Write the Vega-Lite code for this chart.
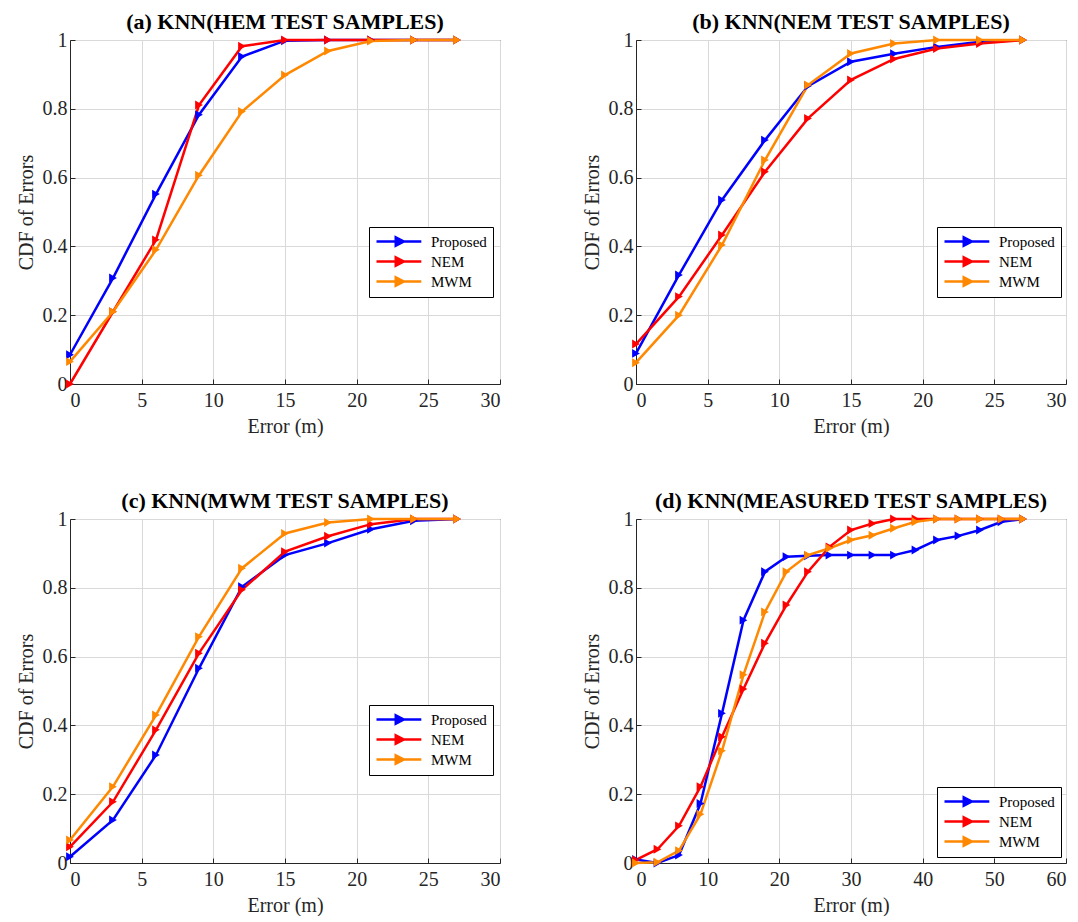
{
"$schema":"https://vega.github.io/schema/vega-lite/v6.json",
"background":"white",
"padding":{"left":15,"top":10,"right":5,"bottom":0},
"datasets":{
"a":[
{"m":"Proposed","e":0,"c":0.085},{"m":"Proposed","e":3,"c":0.308},{"m":"Proposed","e":6,"c":0.552},{"m":"Proposed","e":9,"c":0.783},{"m":"Proposed","e":12,"c":0.952},{"m":"Proposed","e":15,"c":0.998},{"m":"Proposed","e":18,"c":1},{"m":"Proposed","e":21,"c":1},{"m":"Proposed","e":24,"c":1},{"m":"Proposed","e":27,"c":1},
{"m":"NEM","e":0,"c":0},{"m":"NEM","e":3,"c":0.21},{"m":"NEM","e":6,"c":0.419},{"m":"NEM","e":9,"c":0.811},{"m":"NEM","e":12,"c":0.982},{"m":"NEM","e":15,"c":1},{"m":"NEM","e":18,"c":1},{"m":"NEM","e":21,"c":1},{"m":"NEM","e":24,"c":1},{"m":"NEM","e":27,"c":1},
{"m":"MWM","e":0,"c":0.065},{"m":"MWM","e":3,"c":0.21},{"m":"MWM","e":6,"c":0.39},{"m":"MWM","e":9,"c":0.607},{"m":"MWM","e":12,"c":0.792},{"m":"MWM","e":15,"c":0.898},{"m":"MWM","e":18,"c":0.968},{"m":"MWM","e":21,"c":0.997},{"m":"MWM","e":24,"c":1},{"m":"MWM","e":27,"c":1}
],
"b":[
{"m":"Proposed","e":0,"c":0.089},{"m":"Proposed","e":3,"c":0.317},{"m":"Proposed","e":6,"c":0.535},{"m":"Proposed","e":9,"c":0.709},{"m":"Proposed","e":12,"c":0.866},{"m":"Proposed","e":15,"c":0.937},{"m":"Proposed","e":18,"c":0.96},{"m":"Proposed","e":21,"c":0.98},{"m":"Proposed","e":24,"c":0.995},{"m":"Proposed","e":27,"c":1},
{"m":"NEM","e":0,"c":0.116},{"m":"NEM","e":3,"c":0.254},{"m":"NEM","e":6,"c":0.433},{"m":"NEM","e":9,"c":0.617},{"m":"NEM","e":12,"c":0.772},{"m":"NEM","e":15,"c":0.884},{"m":"NEM","e":18,"c":0.945},{"m":"NEM","e":21,"c":0.975},{"m":"NEM","e":24,"c":0.99},{"m":"NEM","e":27,"c":1},
{"m":"MWM","e":0,"c":0.062},{"m":"MWM","e":3,"c":0.2},{"m":"MWM","e":6,"c":0.404},{"m":"MWM","e":9,"c":0.651},{"m":"MWM","e":12,"c":0.869},{"m":"MWM","e":15,"c":0.961},{"m":"MWM","e":18,"c":0.99},{"m":"MWM","e":21,"c":1},{"m":"MWM","e":24,"c":1},{"m":"MWM","e":27,"c":1}
],
"c":[
{"m":"Proposed","e":0,"c":0.018},{"m":"Proposed","e":3,"c":0.125},{"m":"Proposed","e":6,"c":0.314},{"m":"Proposed","e":9,"c":0.566},{"m":"Proposed","e":12,"c":0.803},{"m":"Proposed","e":15,"c":0.895},{"m":"Proposed","e":18,"c":0.93},{"m":"Proposed","e":21,"c":0.97},{"m":"Proposed","e":24,"c":0.995},{"m":"Proposed","e":27,"c":1},
{"m":"NEM","e":0,"c":0.047},{"m":"NEM","e":3,"c":0.178},{"m":"NEM","e":6,"c":0.387},{"m":"NEM","e":9,"c":0.61},{"m":"NEM","e":12,"c":0.794},{"m":"NEM","e":15,"c":0.905},{"m":"NEM","e":18,"c":0.95},{"m":"NEM","e":21,"c":0.985},{"m":"NEM","e":24,"c":1},{"m":"NEM","e":27,"c":1},
{"m":"MWM","e":0,"c":0.067},{"m":"MWM","e":3,"c":0.222},{"m":"MWM","e":6,"c":0.43},{"m":"MWM","e":9,"c":0.658},{"m":"MWM","e":12,"c":0.857},{"m":"MWM","e":15,"c":0.958},{"m":"MWM","e":18,"c":0.99},{"m":"MWM","e":21,"c":1},{"m":"MWM","e":24,"c":1},{"m":"MWM","e":27,"c":1}
],
"d":[
{"m":"Proposed","e":0,"c":0.01},{"m":"Proposed","e":3,"c":0},{"m":"Proposed","e":6,"c":0.023},{"m":"Proposed","e":9,"c":0.173},{"m":"Proposed","e":12,"c":0.435},{"m":"Proposed","e":15,"c":0.706},{"m":"Proposed","e":18,"c":0.847},{"m":"Proposed","e":21,"c":0.89},{"m":"Proposed","e":24,"c":0.893},{"m":"Proposed","e":27,"c":0.895},{"m":"Proposed","e":30,"c":0.895},{"m":"Proposed","e":33,"c":0.895},{"m":"Proposed","e":36,"c":0.895},{"m":"Proposed","e":39,"c":0.91},{"m":"Proposed","e":42,"c":0.939},{"m":"Proposed","e":45,"c":0.951},{"m":"Proposed","e":48,"c":0.968},{"m":"Proposed","e":51,"c":0.992},{"m":"Proposed","e":54,"c":1},
{"m":"NEM","e":0,"c":0.009},{"m":"NEM","e":3,"c":0.04},{"m":"NEM","e":6,"c":0.108},{"m":"NEM","e":9,"c":0.222},{"m":"NEM","e":12,"c":0.367},{"m":"NEM","e":15,"c":0.506},{"m":"NEM","e":18,"c":0.639},{"m":"NEM","e":21,"c":0.75},{"m":"NEM","e":24,"c":0.847},{"m":"NEM","e":27,"c":0.919},{"m":"NEM","e":30,"c":0.968},{"m":"NEM","e":33,"c":0.987},{"m":"NEM","e":36,"c":1},{"m":"NEM","e":39,"c":1},{"m":"NEM","e":42,"c":1},{"m":"NEM","e":45,"c":1},{"m":"NEM","e":48,"c":1},{"m":"NEM","e":51,"c":1},{"m":"NEM","e":54,"c":1},
{"m":"MWM","e":0,"c":0},{"m":"MWM","e":3,"c":0.002},{"m":"MWM","e":6,"c":0.036},{"m":"MWM","e":9,"c":0.142},{"m":"MWM","e":12,"c":0.326},{"m":"MWM","e":15,"c":0.547},{"m":"MWM","e":18,"c":0.73},{"m":"MWM","e":21,"c":0.847},{"m":"MWM","e":24,"c":0.895},{"m":"MWM","e":27,"c":0.915},{"m":"MWM","e":30,"c":0.939},{"m":"MWM","e":33,"c":0.953},{"m":"MWM","e":36,"c":0.973},{"m":"MWM","e":39,"c":0.992},{"m":"MWM","e":42,"c":1},{"m":"MWM","e":45,"c":1},{"m":"MWM","e":48,"c":1},{"m":"MWM","e":51,"c":1},{"m":"MWM","e":54,"c":1}
]
},
"columns":2,
"spacing":{"row":135,"column":136},
"bounds":"flush",
"resolve":{"scale":{"color":"independent","x":"independent","y":"independent"},"legend":{"color":"independent"}},
"concat":[
{"width":430,"height":344,"title":"(a) KNN(HEM TEST SAMPLES)","data":{"name":"a"},
 "mark":{"type":"line","strokeWidth":2.5,"point":{"shape":"triangle-right","size":80,"filled":true}},
 "encoding":{
  "x":{"field":"e","type":"quantitative","scale":{"domain":[0,30],"nice":false},"axis":{"title":"Error (m)","values":[0,5,10,15,20,25,30]}},
  "y":{"field":"c","type":"quantitative","scale":{"domain":[0,1],"nice":false},"axis":{"title":"CDF of Errors","values":[0,0.2,0.4,0.6,0.8,1],"format":"~g"}},
  "color":{"field":"m","type":"nominal","sort":["Proposed","NEM","MWM"],"scale":{"domain":["Proposed","NEM","MWM"],"range":["#0000ff","#ff0000","#ff8800"]},"legend":{"orient":"none","legendX":299,"legendY":187,"title":null}}
 }},
{"width":430,"height":344,"title":"(b) KNN(NEM TEST SAMPLES)","data":{"name":"b"},
 "mark":{"type":"line","strokeWidth":2.5,"point":{"shape":"triangle-right","size":80,"filled":true}},
 "encoding":{
  "x":{"field":"e","type":"quantitative","scale":{"domain":[0,30],"nice":false},"axis":{"title":"Error (m)","values":[0,5,10,15,20,25,30]}},
  "y":{"field":"c","type":"quantitative","scale":{"domain":[0,1],"nice":false},"axis":{"title":"CDF of Errors","values":[0,0.2,0.4,0.6,0.8,1],"format":"~g"}},
  "color":{"field":"m","type":"nominal","sort":["Proposed","NEM","MWM"],"scale":{"domain":["Proposed","NEM","MWM"],"range":["#0000ff","#ff0000","#ff8800"]},"legend":{"orient":"none","legendX":301,"legendY":187,"title":null}}
 }},
{"width":430,"height":344,"title":"(c) KNN(MWM TEST SAMPLES)","data":{"name":"c"},
 "mark":{"type":"line","strokeWidth":2.5,"point":{"shape":"triangle-right","size":80,"filled":true}},
 "encoding":{
  "x":{"field":"e","type":"quantitative","scale":{"domain":[0,30],"nice":false},"axis":{"title":"Error (m)","values":[0,5,10,15,20,25,30]}},
  "y":{"field":"c","type":"quantitative","scale":{"domain":[0,1],"nice":false},"axis":{"title":"CDF of Errors","values":[0,0.2,0.4,0.6,0.8,1],"format":"~g"}},
  "color":{"field":"m","type":"nominal","sort":["Proposed","NEM","MWM"],"scale":{"domain":["Proposed","NEM","MWM"],"range":["#0000ff","#ff0000","#ff8800"]},"legend":{"orient":"none","legendX":299,"legendY":186,"title":null}}
 }},
{"width":430,"height":344,"title":"(d) KNN(MEASURED TEST SAMPLES)","data":{"name":"d"},
 "mark":{"type":"line","strokeWidth":2.5,"point":{"shape":"triangle-right","size":80,"filled":true}},
 "encoding":{
  "x":{"field":"e","type":"quantitative","scale":{"domain":[0,60],"nice":false},"axis":{"title":"Error (m)","values":[0,10,20,30,40,50,60]}},
  "y":{"field":"c","type":"quantitative","scale":{"domain":[0,1],"nice":false},"axis":{"title":"CDF of Errors","values":[0,0.2,0.4,0.6,0.8,1],"format":"~g"}},
  "color":{"field":"m","type":"nominal","sort":["Proposed","NEM","MWM"],"scale":{"domain":["Proposed","NEM","MWM"],"range":["#0000ff","#ff0000","#ff8800"]},"legend":{"orient":"none","legendX":301,"legendY":268,"title":null}}
 }}
],
"config":{
 "font":"Liberation Serif",
 "view":{"stroke":"#262626","strokeWidth":1},
 "axis":{"labelFont":"Liberation Serif","labelFontSize":20,"labelColor":"#262626","titleFont":"Liberation Serif","titleFontSize":20,"titleFontWeight":"normal","titleColor":"#262626","domainColor":"#262626","tickColor":"#262626","tickSize":-5,"gridColor":"#d9d9d9","gridWidth":1,"labelPadding":8},
 "axisX":{"titlePadding":6,"labelPadding":11},
 "axisY":{"titlePadding":6,"labelPadding":8},
 "title":{"font":"Liberation Serif","fontSize":22,"fontWeight":"bold","color":"#000000","offset":-4},
 "legend":{"strokeColor":"#000000","fillColor":"#ffffff","padding":6,"labelFont":"Liberation Serif","labelFontSize":15,"labelColor":"#000000","symbolType":"M-1,0L5.4,0M1.75,-0.6L2.9,0L1.75,0.6ZM1.95,-0.25L2.45,0L1.95,0.25Z","symbolSize":196,"symbolStrokeWidth":2.5,"labelOffset":39,"rowPadding":1,"cornerRadius":0}
}
}
